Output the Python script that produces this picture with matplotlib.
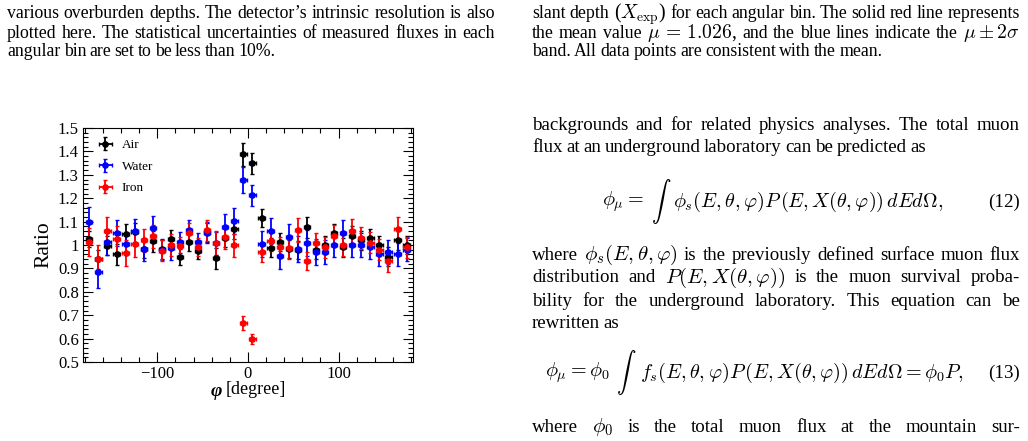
import re
import numpy as np
import matplotlib.pyplot as plt
from matplotlib.ticker import MultipleLocator

plt.rcParams['font.family'] = ['Liberation Serif', 'DejaVu Serif']
plt.rcParams['mathtext.fontset'] = 'cm'

# bin centres in degrees
phi = [-175, -165, -155, -145, -135, -125, -115, -105, -95, -85, -75, -65,
       -55, -45, -35, -25, -15, -5, 5, 15, 25, 35, 45, 55, 65, 75, 85, 95,
       105, 115, 125, 135, 145, 155, 165, 175]

air = [1.026, 0.939, 0.997, 0.960, 1.046, 1.054, 0.985, 1.017, 0.981, 1.026, 0.950, 1.011,
       0.974, 1.054, 0.943, 1.031, 1.067, 1.387, 1.349, 1.115, 0.989, 1.013, 0.983, 0.979,
       1.076, 0.979, 1.000, 1.050, 0.990, 1.040, 1.020, 1.030, 1.000, 0.950, 1.020, 1.000]
air_err = [0.035, 0.040, 0.040, 0.045, 0.045, 0.040, 0.040, 0.045, 0.040, 0.040, 0.035, 0.035,
           0.035, 0.040, 0.045, 0.040, 0.040, 0.050, 0.045, 0.040, 0.040, 0.040, 0.040, 0.040,
           0.045, 0.040, 0.040, 0.040, 0.040, 0.040, 0.040, 0.040, 0.040, 0.040, 0.040, 0.040]

water = [1.100, 0.883, 1.011, 1.051, 1.006, 1.060, 0.981, 1.071, 0.980, 0.986, 1.011, 1.064,
         1.011, 1.053, 1.007, 1.077, 1.103, 1.279, 1.212, 1.003, 1.061, 0.953, 1.034, 0.983,
         1.009, 0.970, 0.970, 1.000, 1.050, 1.000, 1.000, 0.990, 0.960, 0.970, 0.960, 0.980]
water_err = [0.064, 0.065, 0.055, 0.055, 0.050, 0.050, 0.050, 0.055, 0.045, 0.050, 0.045, 0.045,
             0.040, 0.045, 0.050, 0.055, 0.055, 0.055, 0.045, 0.055, 0.055, 0.055, 0.055, 0.055,
             0.055, 0.055, 0.050, 0.050, 0.055, 0.050, 0.050, 0.050, 0.050, 0.050, 0.050, 0.050]

iron = [1.013, 0.939, 1.061, 1.026, 0.967, 1.003, 1.020, 1.037, 0.975, 1.000, 0.994, 1.050,
        0.991, 1.063, 1.009, 1.033, 0.999, 0.665, 0.598, 0.969, 1.019, 0.990, 0.986, 1.064,
        0.932, 1.007, 0.990, 1.040, 1.000, 1.060, 1.030, 1.010, 0.980, 0.930, 1.070, 0.990]
iron_err = [0.060, 0.060, 0.060, 0.055, 0.055, 0.055, 0.050, 0.050, 0.045, 0.045, 0.040, 0.045,
            0.040, 0.045, 0.050, 0.050, 0.050, 0.030, 0.020, 0.040, 0.045, 0.045, 0.045, 0.050,
            0.040, 0.045, 0.045, 0.045, 0.045, 0.050, 0.045, 0.045, 0.045, 0.045, 0.050, 0.045]

series = [('Air', air, air_err, 'black'),
          ('Water', water, water_err, 'blue'),
          ('Iron', iron, iron_err, 'red')]

W, H = 1028, 441
fig = plt.figure(figsize=(W / 100, H / 100), dpi=100)
rend = fig.canvas.get_renderer()

def px(x, y):
    return x / W, 1 - y / H

# the chart
ax = fig.add_axes([0.0807, 0.1791, 0.321, 0.5306])
for name, y, ey, c in series:
    ax.errorbar(phi, y, yerr=ey, xerr=3.5, fmt='o', color=c, ms=3.8,
                elinewidth=1.3, capsize=1.5, capthick=1.0, label=name)

ax.set_xlim(-182, 182)
ax.set_ylim(0.5, 1.5)
ax.xaxis.set_major_locator(MultipleLocator(100))
ax.xaxis.set_minor_locator(MultipleLocator(20))
ax.yaxis.set_minor_locator(MultipleLocator(0.02))
ax.set_yticks([0.5, 0.6, 0.7, 0.8, 0.9, 1.0, 1.1, 1.2, 1.3, 1.4, 1.5],
              ['0.5', '0.6', '0.7', '0.8', '0.9', '1', '1.1', '1.2', '1.3', '1.4', '1.5'])
ax.tick_params(which='both', direction='in', top=True, right=True, labelsize=12, pad=3)
ax.tick_params(which='major', length=7, width=0.8)
ax.tick_params(which='minor', length=3.5, width=0.8)
ax.set_ylabel('Ratio', fontsize=15.5, labelpad=3)
ax.legend(loc='upper left', frameon=False, fontsize=9.5, handlelength=1.7,
          handletextpad=0.4, labelspacing=0.7, borderaxespad=0.45)

# x title: bold italic phi followed by the unit
fig.text(*px(211, 391), '\u03c6', fontsize=14, fontweight='bold', fontstyle='italic',
         va='center', ha='left')
fig.text(*px(226, 390), '[degree]', fontsize=13, va='center', ha='left')

# surrounding page text, justified like the two-column page
def line(x0, x1, yc, s, fs=12.8, justify=True):
    yb = yc + 4.5  # baseline
    words = re.findall(r'(?:[^\s$]|\$[^$]*\$)+', s)
    ts = [fig.text(0, 0, w, fontsize=fs * (1.1 if '$' in w else 1.0),
                   va='baseline', ha='left') for w in words]
    widths = [t.get_window_extent(rend).width for t in ts]
    gap = fs * 0.26
    if justify:
        gap = (x1 - x0 - sum(widths)) / (len(words) - 1)
    x = x0
    for t, w in zip(ts, widths):
        t.set_position(px(x, yb))
        x += w + gap

line(7, 495, 14, "various overburden depths. The detector\u2019s intrinsic resolution is also")
line(7, 495, 33, "plotted here. The statistical uncertainties of measured fluxes in each")
line(7, 495, 52, "angular bin are set to be less than 10%.", justify=False)

fr = 13.6
line(532, 1020, 14, r"slant depth ($X_{\mathrm{exp}}$) for each angular bin. The solid red line represents", 12.8)
line(532, 1020, 33, r"the mean value $\mu\,=\,1.026$, and the blue lines indicate the $\mu\pm2\sigma$", 12.8)
line(532, 1020, 52, "band. All data points are consistent with the mean.", 12.8, justify=False)

line(532, 1020, 125, "backgrounds and for related physics analyses. The total muon", fr)
line(532, 1020, 147, "flux at an underground laboratory can be predicted as", fr, justify=False)
line(532, 1020, 255, r"where $\phi_s(E,\theta,\varphi)$ is the previously defined surface muon flux", fr)
line(532, 1020, 278, r"distribution and $P(E,X(\theta,\varphi))$ is the muon survival proba-", fr)
line(532, 1020, 301, "bility for the underground laboratory.  This equation can be", fr)
line(532, 1020, 324, "rewritten as", fr, justify=False)
line(532, 1020, 427, r"where $\phi_0$ is the total muon flux at the mountain sur-", fr)

# displayed equations with a tall integral sign
efs = 14.5
fig.text(*px(602, 202), r"$\phi_\mu=$", fontsize=efs, va='center', ha='left')
fig.text(*px(651, 201), r"$\int$", fontsize=14, va='center', ha='left')
fig.text(*px(673, 202),
         r"$\phi_s(E,\theta,\varphi)P\,(E,X(\theta,\varphi))\,dEd\Omega,$",
         fontsize=efs, va='center', ha='left')
fig.text(*px(1020, 202), "(12)", fontsize=fr, va='center', ha='right')

fig.text(*px(545, 373), r"$\phi_\mu=\phi_0$", fontsize=efs, va='center', ha='left')
fig.text(*px(616, 372), r"$\int$", fontsize=14, va='center', ha='left')
fig.text(*px(640, 373),
         r"$f_s(E,\theta,\varphi)P\,(E,X(\theta,\varphi))\,dEd\Omega=\phi_0 P,$",
         fontsize=efs, va='center', ha='left')
fig.text(*px(1020, 373), "(13)", fontsize=fr, va='center', ha='right')

fig.savefig('out.png', dpi=100)
